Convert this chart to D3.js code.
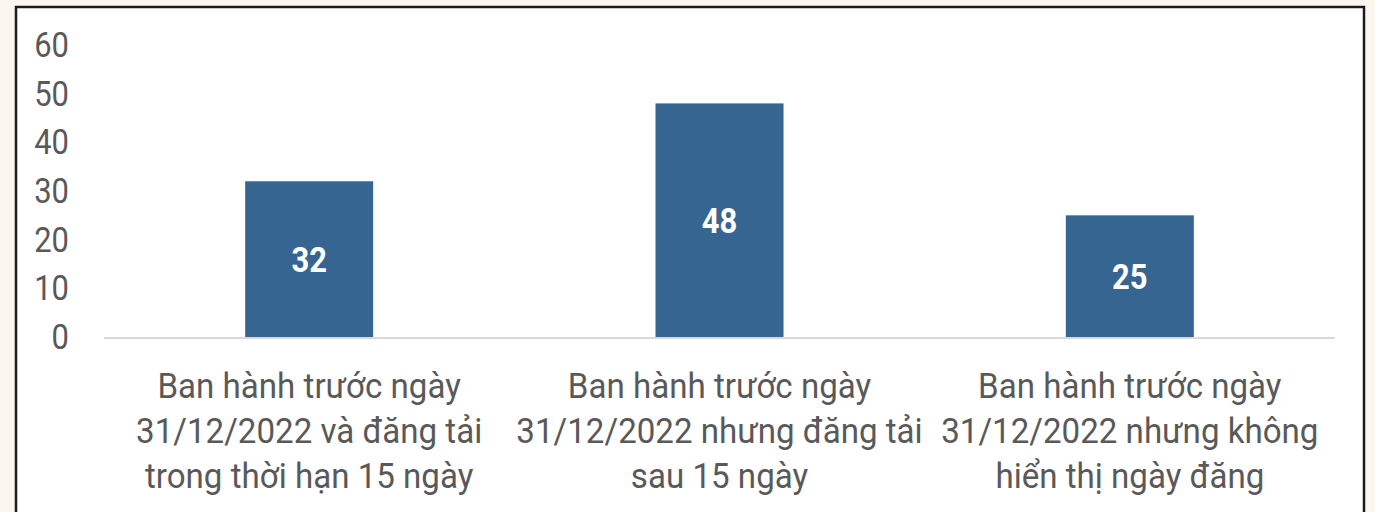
<!DOCTYPE html>
<html>
<head>
<meta charset="utf-8">
<script src="https://cdn.jsdelivr.net/npm/d3@7"></script>
<style>
  html, body { margin: 0; padding: 0; background: #fcf7ee; }
  svg { display: block; }
</style>
</head>
<body>
<div id="chart"></div>
<script>
// data
var categories = [
    ["Ban hành trước ngày", "31/12/2022 và đăng tải", "trong thời hạn 15 ngày"],
    ["Ban hành trước ngày", "31/12/2022 nhưng đăng tải", "sau 15 ngày"],
    ["Ban hành trước ngày", "31/12/2022 nhưng không", "hiển thị ngày đăng"]
];
var values = [32, 48, 25];
var yTicks = [0, 10, 20, 30, 40, 50, 60];

var w = 1375;
var h = 512;

var svg = d3.select("#chart")
            .append("svg")
            .attr("width", w)
            .attr("height", h);

// white panel with dark border
svg.append("rect")
    .attr("x", 16)
    .attr("y", 7)
    .attr("width", 1348)
    .attr("height", 520)
    .attr("fill", "white")
    .attr("stroke", "#1c1c1c")
    .attr("stroke-width", 2.5);

var x = d3.scaleBand()
    .domain(d3.range(categories.length))
    .range([104, 1335])
    .paddingInner(0.688)
    .paddingOuter(0.344);

var y = d3.scaleLinear()
    .domain([0, 60])
    .range([337, 45]);

// y axis labels
var yAxis = svg.append("g")
    .attr("transform", "translate(69,0)")
    .call(d3.axisLeft(y).tickValues(yTicks).tickSize(0).tickPadding(0));
yAxis.select(".domain").remove();
yAxis.selectAll("text")
    .attr("fill", "#595959")
    .attr("font-family", "Roboto, sans-serif")
    .attr("font-size", 36)
    .attr("transform", "scale(0.86,1)");

// bars
svg.selectAll("rect.bar")
    .data(values)
    .enter()
    .append("rect")
    .attr("class", "bar")
    .attr("x", function(d, i) { return x(i); })
    .attr("y", function(d) { return y(d); })
    .attr("width", x.bandwidth())
    .attr("height", function(d) { return y(0) - y(d); })
    .attr("fill", "#376592");

// zero line
svg.append("line")
    .attr("x1", 104)
    .attr("x2", 1335)
    .attr("y1", y(0) + 1)
    .attr("y2", y(0) + 1)
    .attr("stroke", "#d9d9d9")
    .attr("stroke-width", 2);

// value labels
svg.selectAll("g.val")
    .data(values)
    .enter()
    .append("g")
    .attr("class", "val")
    .attr("transform", function(d, i) {
        return "translate(" + (x(i) + x.bandwidth() / 2) + "," + ((y(d) + y(0)) / 2) + ")";
    })
    .append("text")
    .attr("transform", "scale(0.86,1)")
    .attr("text-anchor", "middle")
    .attr("dy", "0.36em")
    .attr("fill", "white")
    .attr("font-family", "Roboto, sans-serif")
    .attr("font-weight", "bold")
    .attr("font-size", 36)
    .text(function(d) { return d; });

// category labels
var cat = svg.selectAll("g.cat")
    .data(categories)
    .enter()
    .append("g")
    .attr("class", "cat")
    .attr("transform", function(d, i) {
        return "translate(" + (x(i) + x.bandwidth() / 2) + ",398)";
    })
    .append("text")
    .attr("transform", "scale(0.92,1)")
    .attr("text-anchor", "middle")
    .attr("fill", "#595959")
    .attr("font-family", "Roboto, sans-serif")
    .attr("font-size", 36);

cat.selectAll("tspan")
    .data(function(d) { return d; })
    .enter()
    .append("tspan")
    .attr("x", 0)
    .attr("y", function(d, i) { return i * 45; })
    .text(function(d) { return d; });
</script>
</body>
</html>
